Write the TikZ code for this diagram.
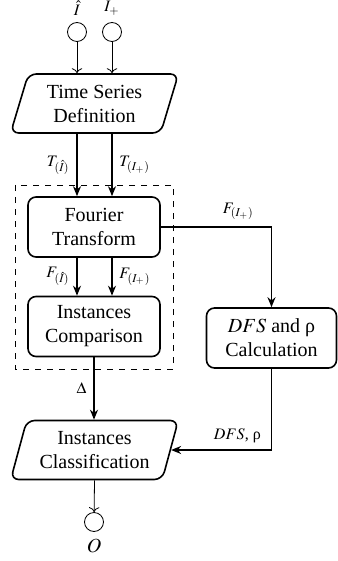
\documentclass[tikz,border=0pt]{standalone}
\usepackage{mathptmx}
\usepackage[no-math]{fontspec}
\setmainfont{Liberation Serif}
\usetikzlibrary{shapes.geometric,arrows.meta}

\begin{document}
\begin{tikzpicture}[x=0.5pt, y=-0.5pt,
	proc/.style={draw, thick, rounded corners=4pt, minimum width=66pt, minimum height=30pt, align=center},
	io/.style={draw, thick, trapezium, trapezium left angle=74, trapezium right angle=106, trapezium stretches=true, rounded corners=4pt, minimum width=84pt, minimum height=29.5pt, align=center},
	term/.style={circle, draw, minimum size=9.5pt, inner sep=0pt},
	lbl/.style={font=\footnotesize},
	flow/.style={thick, -{Stealth[length=5pt, width=4pt]}}]
			\useasboundingbox (0,0) rectangle (337,561);
			% Entradas
			\node[term, label={[lbl]above:$\hat{I}$}] (ih) at (77,32) {};
			\node[term, label={[lbl]above:$I_{+}$}] (ip) at (112,32) {};
			
			% Series temporales
			\node[io] (ts) at (94.5,103.5) {Time Series\\Definition};
			\draw[->] (ih) -- (ih |- ts.north);
			\draw[->] (ip) -- (ip |- ts.north);
			
			% Bloque de Fourier
			\draw[dashed] (15,185) rectangle (173,369);
			\node[proc] (ft) at (94,227) {Fourier\\Transform};
			\node[proc] (ic) at (94,326.5) {Instances\\Comparison};
			
			\draw[flow] (ts.south -| ih) -- node[lbl, left] {$T_{(\hat{I})}$} (ih |- ft.north);
			\draw[flow] (ts.south -| ip) -- node[lbl, right] {$T_{(I_{+})}$} (ip |- ft.north);
			\draw[flow] (ft.south -| ih) -- node[lbl, left] {$F_{(\hat{I})}$} (ih |- ic.north);
			\draw[flow] (ft.south -| ip) -- node[lbl, right] {$F_{(I_{+})}$} (ip |- ic.north);
			
			% DFS
			\node[proc, minimum width=65pt] (dfs) at (271.5,338) {$DFS$ and ρ\\Calculation};
			\draw[flow] (ft.east) -| node[lbl, pos=0.35, above] {$F_{(I_{+})}$} (dfs.north);
			
			% Clasificacion
			\node[io] (cl) at (94.5,450) {Instances\\Classification};
			\draw[flow] (ic.south) -- node[lbl, left] {$\Delta$} (ic.south |- cl.north);
			\draw[flow] (dfs.south) |- node[lbl, pos=0.67, above] {$DFS$, ρ} (cl.east);
			
			% Salida
			\node[term, label={below:$O$}] (out) at (94,522) {};
			\draw[->] (cl.south) -- (out);
		\end{tikzpicture}
\end{document}
